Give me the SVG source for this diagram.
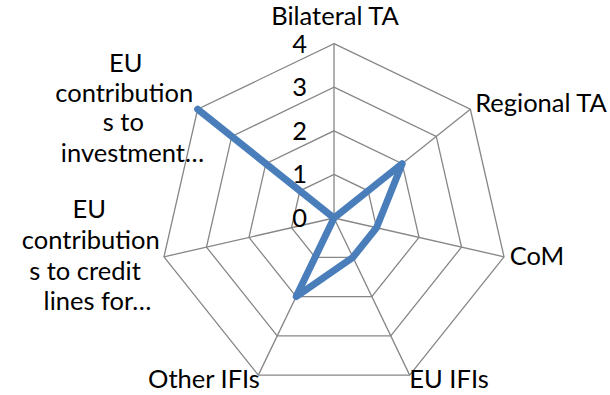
<svg xmlns="http://www.w3.org/2000/svg" width="610" height="395" viewBox="0 0 610 395">
  <style>
    .grid { fill: none; stroke: #868686; stroke-width: 1.3; stroke-linejoin: miter; }
    .spoke { stroke: #868686; stroke-width: 1.3; }
    .series { fill: none; stroke: #4A7EBB; stroke-width: 7; stroke-linejoin: round; stroke-linecap: round; }
    text { font-family: Lato, "Carlito", "Liberation Sans", sans-serif; font-size: 25.5px; fill: #000000; }
    .cat { text-anchor: middle; }
    .tick { text-anchor: end; }
  </style>
  <rect width="610" height="395" fill="#ffffff"/>
  <g id="grid">
    <polygon class="grid" points="334,174.4 368.09,190.82 376.51,227.7 352.92,257.28 315.08,257.28 291.49,227.7 299.91,190.82"/>
    <polygon class="grid" points="334,130.8 402.18,163.63 419.01,237.4 371.83,296.56 296.17,296.56 248.99,237.4 265.82,163.63"/>
    <polygon class="grid" points="334,87.2 436.26,136.45 461.52,247.11 390.75,335.85 277.25,335.85 206.48,247.11 231.74,136.45"/>
    <polygon class="grid" points="334,43.6 470.35,109.26 504.03,256.81 409.67,375.13 258.33,375.13 163.97,256.81 197.65,109.26"/>
  </g>
  <g id="spokes">
    <line class="spoke" x1="334" y1="218" x2="334" y2="43.6"/>
    <line class="spoke" x1="334" y1="218" x2="470.35" y2="109.26"/>
    <line class="spoke" x1="334" y1="218" x2="504.03" y2="256.81"/>
    <line class="spoke" x1="334" y1="218" x2="409.67" y2="375.13"/>
    <line class="spoke" x1="334" y1="218" x2="258.33" y2="375.13"/>
    <line class="spoke" x1="334" y1="218" x2="163.97" y2="256.81"/>
    <line class="spoke" x1="334" y1="218" x2="197.65" y2="109.26"/>
  </g>
  <g id="ticks">
    <text class="tick" x="307" y="227">0</text>
    <text class="tick" x="307" y="183.4">1</text>
    <text class="tick" x="307" y="139.8">2</text>
    <text class="tick" x="307" y="96.2">3</text>
    <text class="tick" x="307" y="52.6">4</text>
  </g>
  <g id="connectors">
    <polygon class="series" points="334,218 402.18,163.63 376.51,227.7 352.92,257.28 296.17,296.56 334,218 197.65,109.26"/>
  </g>
  <g id="node-bilateral-ta"><text class="cat" x="335" y="25">Bilateral TA</text></g>
  <g id="node-regional-ta"><text class="cat" x="541" y="112">Regional TA</text></g>
  <g id="node-com"><text class="cat" x="537" y="265">CoM</text></g>
  <g id="node-eu-ifis"><text class="cat" x="449" y="388">EU IFIs</text></g>
  <g id="node-other-ifis"><text class="cat" x="204" y="388">Other IFIs</text></g>
  <g id="node-credit-lines">
    <text class="cat" x="89.3" y="217.7">EU</text>
    <text class="cat" x="90.8" y="249">contribution</text>
    <text class="cat" x="85" y="280">s to credit</text>
    <text class="cat" x="97.5" y="310">lines for…</text>
  </g>
  <g id="node-investment">
    <text class="cat" x="125.8" y="71.5">EU</text>
    <text class="cat" x="124.2" y="102">contribution</text>
    <text class="cat" x="123.3" y="131">s to</text>
    <text class="cat" x="132.5" y="162">investment…</text>
  </g>
</svg>
